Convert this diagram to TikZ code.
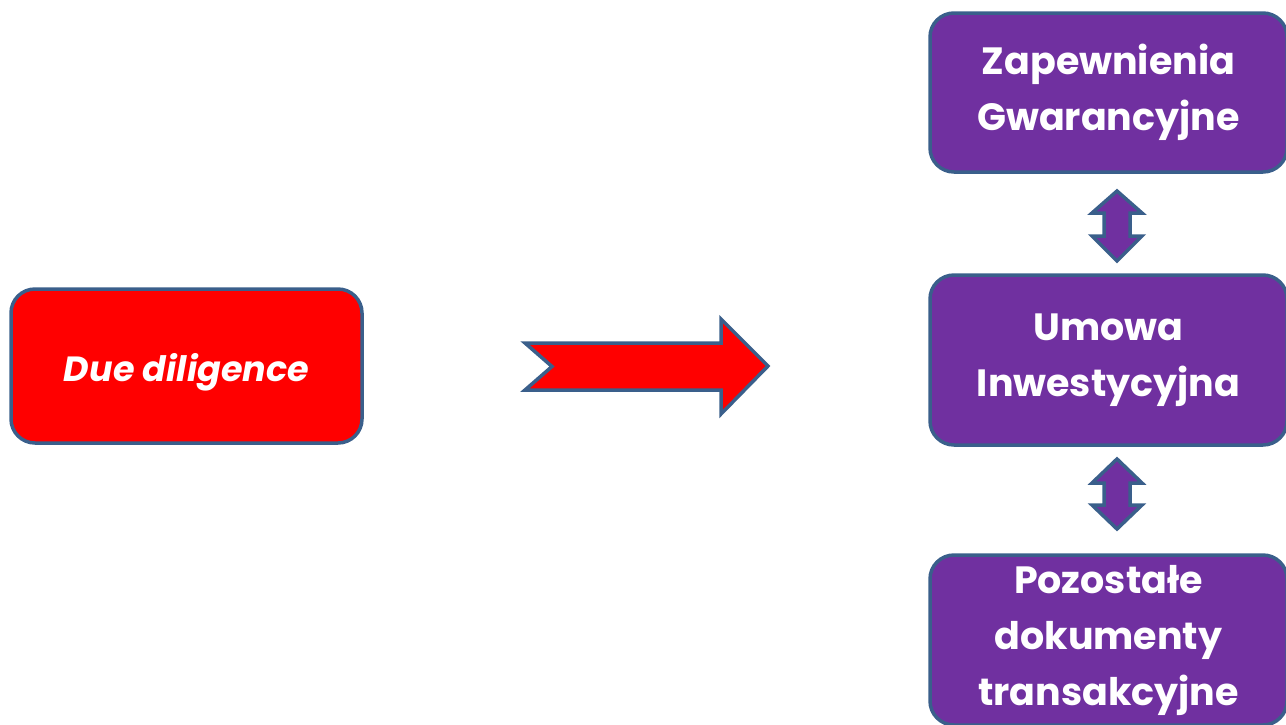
\documentclass[tikz,border=0pt]{standalone}
\usepackage{fontspec}
\newfontfamily\popfont{Poppins}
\definecolor{edgeblue}{HTML}{3A5F8B}
\definecolor{boxpurple}{HTML}{7030A0}
\definecolor{boxred}{HTML}{FF0000}
\tikzset{
  box/.style={draw=edgeblue, line width=3.5pt, rounded corners=24pt, text=white,
    align=center, inner sep=0pt, font=\popfont\bfseries\fontsize{38}{56}\selectfont},
  purplebox/.style={box, fill=boxpurple, minimum width=357pt},
  redbox/.style={box, fill=boxred, minimum width=351pt, minimum height=154pt,
    text height=30pt, text depth=0pt,
    font=\popfont\bfseries\itshape\fontsize{35}{50}\selectfont},
  blockarrow/.style={draw=edgeblue, line width=3.5pt, line join=miter},
}
\begin{document}
\begin{tikzpicture}[x=1pt,y=-1pt]
\useasboundingbox (0,0) rectangle (1286,724);
\clip (0,0) rectangle (1286,724);
\node[redbox] (dd) at (186.5,366) {Due diligence};
\node[purplebox, minimum height=159pt] (zg) at (1108.5,92.5) {Zapewnienia\\Gwarancyjne};
\node[purplebox, minimum height=170pt] (ui) at (1108.5,360) {Umowa\\Inwestycyjna};
\node[purplebox, minimum height=170pt] (pd) at (1108.5,640) {Pozostałe\\dokumenty\\transakcyjne};
% big right arrow
\draw[blockarrow, fill=boxred] (525,343) -- (721,343) -- (721,319) -- (768,366) -- (721,414) -- (721,390) -- (525,390) -- (552,366.5) -- cycle;
% double arrows
\draw[blockarrow, fill=boxpurple] (1117,191) -- (1142,213) -- (1130,213) -- (1130,236) -- (1142,236) -- (1117,261) -- (1092,236) -- (1104,236) -- (1104,213) -- (1092,213) -- cycle;
\draw[blockarrow, fill=boxpurple] (1117,459) -- (1142,483) -- (1130,483) -- (1130,505) -- (1142,505) -- (1117,529) -- (1092,505) -- (1104,505) -- (1104,483) -- (1092,483) -- cycle;
\end{tikzpicture}
\end{document}
